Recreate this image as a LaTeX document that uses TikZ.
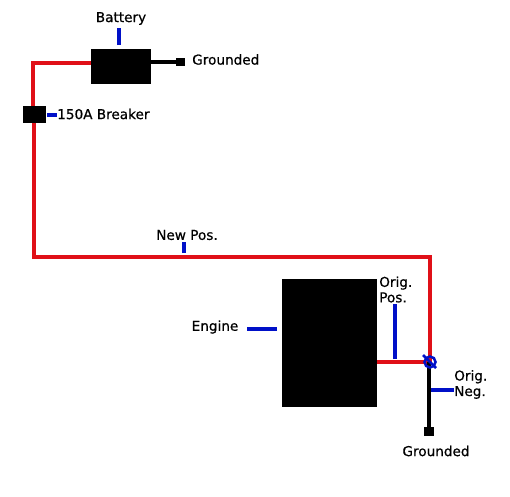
\documentclass[tikz,border=0pt]{standalone}
\usepackage{fontspec}
\setmainfont[RawFeature={embolden=0.6}]{DejaVu Sans}
\tikzset{
  block/.style={fill=black, draw=none, inner sep=0pt},
  pos wire/.style={draw={rgb,255:red,224;green,16;blue,24}, line width=2.4pt},
  neg wire/.style={draw=black, line width=2.3pt},
  leader/.style={draw={rgb,255:red,0;green,16;blue,200}, line width=2.3pt},
  knot/.style={draw={rgb,255:red,0;green,16;blue,200}, line width=1.9pt},
  lbl/.style={inner sep=0pt, font=\fontsize{10.2pt}{11.6pt}\selectfont, align=left}
}
\begin{document}
\begin{tikzpicture}[x=0.75pt, y=-0.75pt]
    \useasboundingbox (0, 0) rectangle (510, 496);

    % Black parts
    \node[block, minimum width=45pt, minimum height=26.25pt] (battery) at (121, 66.5) {};
    \node[block, minimum width=17.25pt, minimum height=12.75pt] (breaker) at (34.5, 114.5) {};
    \node[block, minimum width=71.25pt, minimum height=96pt] (engine) at (329.5, 343) {};
    \node[block, minimum size=6.5pt] (gnda) at (180.5, 62) {};
    \node[block, minimum size=7pt] (gndb) at (429, 431.5) {};

    % Corners and joint of the wires
    \coordinate (corner1) at (33, 63);
    \coordinate (corner2) at (34, 257);
    \coordinate (corner3) at (430, 257);
    \coordinate (joint) at (430, 362);

    % Red wires
    \draw[pos wire] (battery.west |- corner1) -- (corner1) -- (corner1 |- breaker.north);
    \draw[pos wire] (corner2 |- breaker.south) -- (corner2) -- (corner3) -- (joint);
    \draw[pos wire] (engine.east |- joint) -- (joint);

    % Black wires
    \draw[neg wire] (battery.east |- gnda) -- (gnda);
    \draw[neg wire] (gndb |- joint) -- (gndb);

    % Labels
    \node[lbl] (lblbattery) at (121, 18.5) {Battery};
    \node[lbl, right] (lblgnda) at (192, 59.5) {Grounded};
    \node[lbl, right] (lblbreaker) at (57, 114) {150A Breaker};
    \node[lbl] (lblnew) at (187, 235) {New Pos.};
    \node[lbl] (lblengine) at (215, 327) {Engine};
    \node[lbl, right] (lblpos) at (379, 289.5) {Orig.\\Pos.};
    \node[lbl, right] (lblneg) at (454, 384.5) {Orig.\\Neg.};
    \node[lbl] (lblgndb) at (436, 451) {Grounded};

    % Blue leaders
    \coordinate (tipbattery) at (119, 45);
    \coordinate (tipbreaker) at (47, 115);
    \coordinate (tipnew) at (184, 253);
    \coordinate (tipengine) at (277, 329);
    \coordinate (tippos) at (395, 359);
    \coordinate (tipneg) at (431, 390);
    \draw[leader] (tipbattery) -- (119, 28);
    \draw[leader] (tipbreaker) -- (lblbreaker.west |- tipbreaker);
    \draw[leader] (tipnew) -- (184, 242);
    \draw[leader] (tipengine) -- (247, 329);
    \draw[leader] (tippos) -- (395, 304);
    \draw[leader] (tipneg) -- (lblneg.west |- tipneg);

    % Knot on the joint
    \draw[knot] (joint) circle (5.5);
    \draw[knot] (423, 355) -- (436, 368);

\end{tikzpicture}
\end{document}
